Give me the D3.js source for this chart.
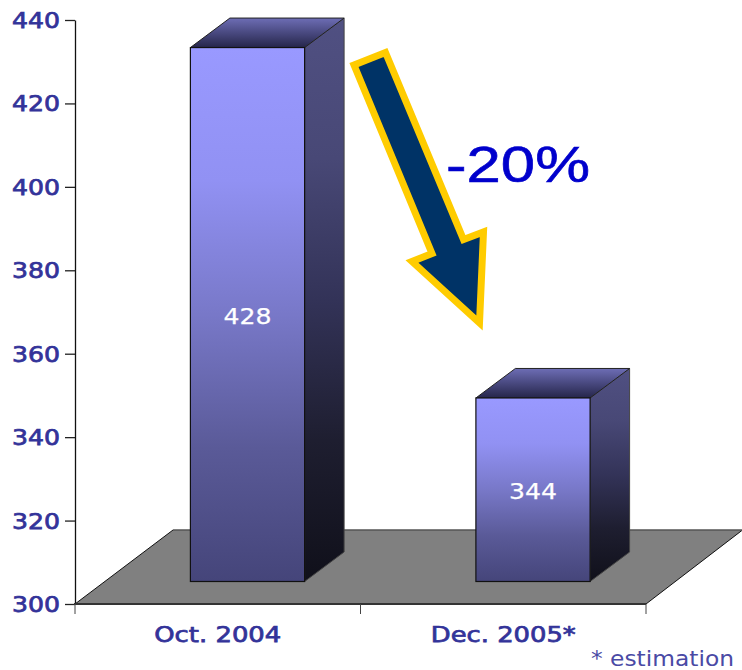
<!DOCTYPE html>
<html><head><meta charset="utf-8">
<script src="https://cdnjs.cloudflare.com/ajax/libs/d3/7.8.5/d3.min.js"></script>
<style>html,body{margin:0;padding:0;background:#fff;overflow:hidden}svg{display:block}</style>
</head><body><svg id="c" width="742" height="670"></svg>
<script>
const categories = ["Oct. 2004", "Dec. 2005*"];
const values = [428, 344];
const valueLabels = ["428", "344"];
const yTicks = [300, 320, 340, 360, 380, 400, 420, 440];
const arrowPoints = [[354,65],[385.5,52.5],[463.5,239.5],[483.5,232],[479.5,323],[412,261.5],[432,253.5]];

const svg = d3.select("#c");
const y = d3.scaleLinear().domain([300, 440]).range([604, 20]);
const x = d3.scaleBand().domain(categories).range([75, 646]).paddingInner(0).paddingOuter(0);
const barW = x.bandwidth() * 0.4;
const frontDX = 29.75, frontDY = -22.5, boxDX = 39.5, boxDY = -29.5, floorDX = 96.5, floorDY = -74;
const labelCol = "#333399";

const defs = svg.append("defs");
function grad(id, stops) {
  const g = defs.append("linearGradient").attr("id", id).attr("x1", 0).attr("y1", 0).attr("x2", 0).attr("y2", 1);
  stops.forEach((c, i) => g.append("stop").attr("offset", i / (stops.length - 1)).attr("stop-color", c));
}
grad("gFront", ["#9999ff", "#9191f3", "#7878c8", "#5a5a98", "#45457a"]);
grad("gSide", ["#505082", "#484876", "#333358", "#1e1e30", "#10101a"]);
grad("gTop", ["#6d6db5", "#25254a"]);

const [x0, x1] = x.range(), base = y(300);
const line = d3.line();
function bold(sel) {
  return sel.attr("font-family", "'DejaVu Sans'").attr("font-size", 22)
    .attr("fill", labelCol).attr("stroke", labelCol).attr("stroke-width", 0.75).attr("lengthAdjust", "spacingAndGlyphs");
}
// floor
svg.append("path").attr("fill", "#808080")
  .attr("d", line([[x0, base], [x1, base], [x1 + floorDX, base + floorDY], [x0 + floorDX + 1.5, base + floorDY]]) + "Z");
svg.append("path").attr("fill", "none").attr("stroke", "#111").attr("stroke-width", 1)
  .attr("d", line([[x0, base], [x0 + floorDX + 1.5, base + floorDY]]));
svg.append("path").attr("fill", "none").attr("stroke", "#111").attr("stroke-width", 1)
  .attr("d", line([[x1, base], [x1 + floorDX, base + floorDY]]));
svg.append("path").attr("fill", "none").attr("stroke", "#555").attr("stroke-width", 1.5)
  .attr("d", line([[x0 + floorDX + 1.5, base + floorDY], [x1 + floorDX, base + floorDY]]));

// axes
const yAxis = d3.axisLeft(y).tickValues(yTicks).tickSize(10).tickSizeOuter(0).tickPadding(2);
const gy = svg.append("g").attr("transform", `translate(${x0},0)`).call(yAxis);
gy.select(".domain").attr("stroke", "#111").attr("stroke-width", 1.3);
gy.selectAll(".tick line").attr("stroke", "#222").attr("stroke-width", 1.3);
gy.selectAll("text").call(bold).attr("x", -15).attr("dy", "0.34em").attr("textLength", 48);

svg.append("path").attr("stroke", "#333").attr("stroke-width", 2.2).attr("fill", "none")
  .attr("d", line([[x0 - 1, base], [x1, base]]));
const xEdges = [x0, x(categories[1]), x1];
svg.selectAll(".xt").data(xEdges).join("line").attr("class", "xt")
  .attr("x1", d => d).attr("x2", d => d).attr("y1", base).attr("y2", base + 10)
  .attr("stroke", "#444").attr("stroke-width", 1);
const xLabelW = [127, 145];
svg.selectAll(".xl").data(categories).join("text").attr("class", "xl")
  .attr("x", d => x(d) + x.bandwidth() / 2)
  .attr("y", 642).attr("text-anchor", "middle")
  .call(bold).attr("textLength", (d, i) => xLabelW[i])
  .text(d => d);

// bars
const bars = svg.selectAll(".bar").data(values).join("g").attr("class", "bar");
const L = (d, i) => x(categories[i]) + x.bandwidth() / 2 + frontDX - barW / 2;
const B = base + frontDY;
const T = d => y(d) + frontDY;
bars.append("path").attr("fill", "url(#gSide)").attr("stroke", "#444").attr("stroke-width", 1).attr("stroke-linejoin", "round")
  .attr("d", (d, i) => { const l = L(d, i) + barW; return line([[l, T(d)], [l + boxDX, T(d) + boxDY], [l + boxDX, B + boxDY], [l, B]]) + "Z"; });
bars.append("path").attr("fill", "url(#gTop)").attr("stroke", "#222").attr("stroke-width", 1).attr("stroke-linejoin", "round")
  .attr("d", (d, i) => { const l = L(d, i); return line([[l, T(d)], [l + boxDX, T(d) + boxDY], [l + barW + boxDX, T(d) + boxDY], [l + barW, T(d)]]) + "Z"; });
bars.append("rect").attr("fill", "url(#gFront)").attr("stroke", "#111").attr("stroke-width", 1.2)
  .attr("x", (d, i) => L(d, i)).attr("y", d => T(d)).attr("width", barW).attr("height", d => B - T(d));
bars.append("text").attr("x", (d, i) => L(d, i) + barW / 2).attr("y", d => (T(d) + B) / 2 + 9)
  .attr("text-anchor", "middle").attr("font-family", "'DejaVu Sans'").attr("font-size", 22)
  .attr("fill", "#fff").attr("stroke", "#fff").attr("stroke-width", 0.25).attr("textLength", 48).attr("lengthAdjust", "spacingAndGlyphs")
  .text((d, i) => valueLabels[i]);

// annotation arrow
svg.append("path").attr("fill", "#003366").attr("stroke", "#ffcc00").attr("stroke-width", 7).attr("stroke-linejoin", "miter")
  .attr("stroke-miterlimit", 8)
  .attr("d", line(arrowPoints) + "Z");
svg.append("text").attr("x", 446).attr("y", 182).attr("font-family", "'Liberation Sans'").attr("font-size", 50)
  .attr("fill", "#0000cc").attr("stroke", "#0000cc").attr("stroke-width", 0.6).attr("textLength", 144).attr("lengthAdjust", "spacingAndGlyphs").text("-20%");
svg.append("text").attr("x", 591).attr("y", 666).attr("font-family", "'DejaVu Sans'").attr("font-size", 21)
  .attr("fill", "#4a4aa5").attr("textLength", 143).attr("lengthAdjust", "spacingAndGlyphs").text("* estimation");
</script></body></html>
